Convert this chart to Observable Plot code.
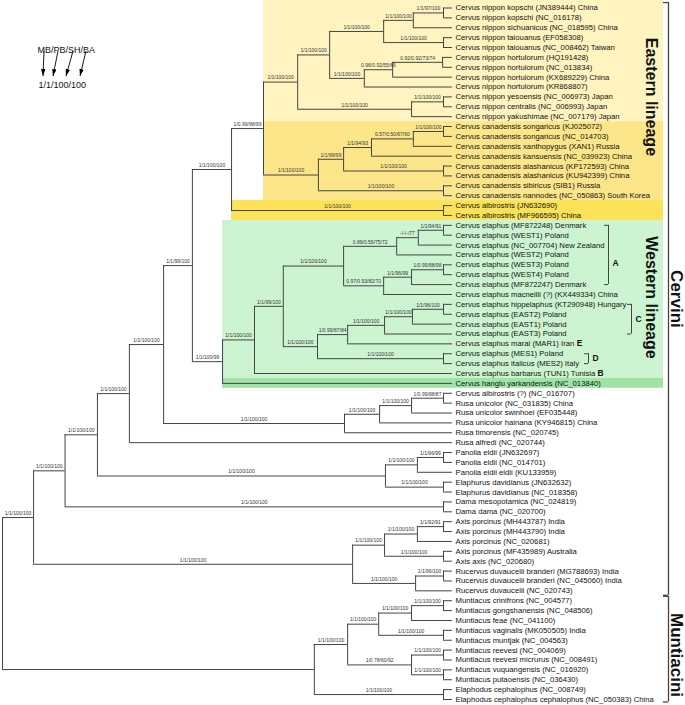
<!DOCTYPE html>
<html><head><meta charset="utf-8">
<script src="https://cdn.jsdelivr.net/npm/d3@7"></script>
<script src="https://cdn.jsdelivr.net/npm/@observablehq/plot@0.6"></script>
<style>body{margin:0;background:#fff}#chart svg{display:block}</style>
</head><body><div id="chart"></div>
<script>
// ---------- DATA ----------
const tipNames = [
"Cervus nippon kopschi (JN389444) China","Cervus nippon kopschi (NC_016178)","Cervus nippon sichuanicus (NC_018595) China",
"Cervus nippon taiouanus (EF058308)","Cervus nippon taiouanus (NC_008462) Taiwan","Cervus nippon hortulorum (HQ191428)",
"Cervus nippon hortulorum (NC_013834)","Cervus nippon hortulorum (KX689229) China","Cervus nippon hortulorum (KR868807)",
"Cervus nippon yesoensis (NC_006973) Japan","Cervus nippon centralis (NC_006993) Japan","Cervus nippon yakushimae (NC_007179) Japan",
"Cervus canadensis songaricus (KJ025072)","Cervus canadensis songaricus (NC_014703)","Cervus canadensis xanthopygus (XAN1) Russia",
"Cervus canadensis kansuensis (NC_039923) China","Cervus canadensis alashanicus (KP172593) China","Cervus canadensis alashanicus (KU942399) China",
"Cervus canadensis sibiricus (SIB1) Russia","Cervus canadensis nannodes (NC_050863) South Korea","Cervus albirostris (JN632690)",
"Cervus albirostris (MF966595) China","Cervus elaphus (MF872248) Denmark","Cervus elaphus (WEST1) Poland",
"Cervus elaphus (NC_007704) New Zealand","Cervus elaphus (WEST2) Poland","Cervus elaphus (WEST3) Poland",
"Cervus elaphus (WEST4) Poland","Cervus elaphus (MF872247) Denmark","Cervus elaphus macneilli (?) (KX449334) China",
"Cervus elaphus hippelaphus (KT290948) Hungary","Cervus elaphus (EAST2) Poland","Cervus elaphus (EAST1) Poland",
"Cervus elaphus (EAST3) Poland","Cervus elaphus maral (MAR1) Iran","Cervus elaphus (MES1) Poland",
"Cervus elaphus italicus (MES2) Italy","Cervus elaphus barbarus (TUN1) Tunisia","Cervus hanglu yarkandensis (NC_013840)",
"Cervus albirostris (?) (NC_016707)","Rusa unicolor (NC_031835) China","Rusa unicolor swinhoei (EF035448)",
"Rusa unicolor hainana (KY946815) China","Rusa timorensis (NC_020745)","Rusa alfredi (NC_020744)",
"Panolia eldii (JN632697)","Panolia eldii (NC_014701)","Panolia eldii eldii (KU133959)",
"Elaphurus davidianus (JN632632)","Elaphurus davidianus (NC_018358)","Dama mesopotamica (NC_024819)",
"Dama dama (NC_020700)","Axis porcinus (MH443787) India","Axis porcinus (MH443790) India",
"Axis porcinus (NC_020681)","Axis porcinus (MF435989) Australia","Axis axis (NC_020680)",
"Rucervus duvaucelii branderi (MG788693) India","Rucervus duvaucelii branderi (NC_045060) India","Rucervus duvaucelii (NC_020743)",
"Muntiacus crinifrons (NC_004577)","Muntiacus gongshanensis (NC_048506)","Muntiacus feae (NC_041100)",
"Muntiacus vaginalis (MK050505) India","Muntiacus muntjak (NC_004563)","Muntiacus reevesi (NC_004069)",
"Muntiacus reevesi micrurus (NC_008491)","Muntiacus vuquangensis (NC_016920)","Muntiacus putaoensis (NC_036430)",
"Elaphodus cephalophus (NC_008749)","Elaphodus cephalophus cephalophus (NC_050383) China"];

const tipParent = [
"kop2","kop2","kop3","tai","tai","hor3","hor3","hor2","hor","yes2","yes2","yes3",
"song","song","can2","can3","alash","alash","sib","sib","alb","alb",
"a1b","a1b","a1a","a1","a2b","a2b","a2a","a2","ce3","ce3","ce2","ce1","ce","dPair","dPair","e1","west",
"rusa3","rusa3","rusa2","rusa1","rusa","n129","pan2","pan2","pan1","ela","ela","dama","dama",
"ax2","ax2","ax1","axp","axp","ru1","ru1","ru",
"mu1b","mu1b","mu1a","vag","vag","ree","ree","vuq","vuq","elaphodus","elaphodus"];

// internal nodes: id, parent, relative depth (root = 0, tips = 1), support MB/PB/SH/BA
const nodeIds = ["root","n33","n65","n97","n129","n163","n192","n231","n263","nip","n329","nipX","kop3","kop2","tai",
"hor","hor2","hor3","yes3","yes2","can","can4","can3","can2","song","alash","sib","alb",
"west","e1","e2","aRoot","a1","a1a","a1b","a2","a2a","a2b","ced","ce","ce1","ce2","ce3","dPair",
"rusa","rusa1","rusa2","rusa3","pe","pan1","pan2","ela","dama","ar","ax","ax1","ax2","axp","ru","ru1",
"munt","mu","mu1","mu1a","mu1b","vag","mu2","ree","vuq","elaphodus"];
const nodeParent = [null,"root","n33","n65","n97","n129","n163","n192","n231","n263","nip","n329","nipX","kop3","nipX",
"n329","hor","hor2","nip","yes3","n263","can","can4","can3","can2","can4","can","n231",
"n192","west","e1","e2","aRoot","a1","a1a","aRoot","a2","a2a","e2","ced","ce","ce1","ce2","ced",
"n163","rusa","rusa1","rusa2","n97","pe","pan1","pe","n65","n33","ar","ax","ax1","ax","ar","ru",
"root","munt","mu","mu1","mu1a","mu1","mu","mu2","mu2","munt"];
const nodeDepth = [0,0.069,0.139,0.211,0.282,0.358,0.422,0.509,0.580,0.656,0.727,0.847,0.913,0.980,0.980,
0.804,0.867,0.978,0.909,0.980,0.702,0.758,0.820,0.913,0.980,0.980,0.980,0.980,
0.489,0.560,0.624,0.758,0.876,0.924,0.980,0.847,0.909,0.980,0.700,0.767,0.849,0.911,0.980,0.980,
0.760,0.838,0.909,0.980,0.851,0.922,0.980,0.980,0.980,0.778,0.849,0.922,0.980,0.980,0.918,0.980,
0.693,0.767,0.836,0.909,0.980,0.980,0.909,0.980,0.980,0.980];
const nodeSupport = ["","1/1/100/100","1/1/100/100","1/1/100/100","1/1/100/100","1/1/100/100","1/1/99/100","1/1/100/100","1/0.99/98/99",
"1/1/100/100","1/1/100/100","1/1/100/100","1/1/100/100","1/1/97/100","1/1/100/100",
"1/1/100/100","0.96/0.92/55/66","0.92/0.92/73/74","1/1/100/100","1/1/100/100",
"1/1/100/100","1/1/99/99","1/1/94/93","0.57/0.50/67/60","1/1/100/100","1/1/100/100","1/1/100/100","1/1/100/100",
"1/1/100/99","1/1/100/100","1/1/99/100","1/1/100/100","0.89/0.59/75/72","-/-/-/77","1/1/94/91","0.97/0.93/82/70","1/1/96/99","1/0.99/88/98",
"1/1/100/100","1/0.99/87/84","1/1/100/100","1/1/100/100","1/1/96/100","1/1/100/100",
"1/1/100/100","1/1/100/100","1/1/100/100","1/0.99/88/87","1/1/100/100","1/1/100/100","1/1/96/99","1/1/100/100","1/1/100/100",
"1/1/100/100","1/1/100/100","1/1/100/100","1/1/92/91","1/1/100/100","1/1/100/100","1/1/99/100",
"","1/1/100/100","1/1/100/100","1/1/100/100","1/1/100/100","1/1/100/100","1/0.78/60/92","1/1/100/100","1/1/100/100","1/1/100/100"];

// shaded lineage bands: tip range, left edge at clade node
const bandFrom  = [0, 12, 20, 22, 38];
const bandTo    = [11, 19, 21, 37, 38];
const bandNode  = ["n263","n263","n231","west","west"];
const bandColor = ["#fff4c0","#fde68a","#fce257","#cdf4d1","#9fe4a5"];

// mitochondrial groups
const groupLabel = ["A","C","D"];
const groupFrom = [22, 30, 35];
const groupTo   = [28, 33, 36];
const suffixTip = [34, 37];
const suffixLetter = ["E","B"];

const lineageLabel = ["Eastern lineage","Western lineage"];
const lineageAt = [9.0, 29.3];
const tribeLabel = ["Cervini","Muntiacini"];
const tribeFrom = [-0.55, 59.55];
const tribeTo = [59.45, 70.25];

// ---------- LAYOUT ----------
const W = 685, H = 705, X0 = 2, X1 = 452, Y0 = 7.5, Y1 = 699;
const xs = d3.scaleLinear([0, 1], [X0, X1]);
const ys = d3.scaleLinear([0, tipNames.length - 1], [Y0, Y1]);
const px = v => xs.invert(v);
const FONT = "Liberation Sans, Arial, Helvetica, sans-serif";

// ---------- TREE ----------
const nodes = new Map();
nodeIds.forEach((id, i) => nodes.set(id, {id, parent: nodeParent[i], depth: nodeDepth[i], support: nodeSupport[i], children: []}));
const tips = tipNames.map((name, i) => ({id: "t" + i, name, parent: tipParent[i], depth: 1, y: i, tip: true}));
for (const n of nodes.values()) if (n.parent) nodes.get(n.parent).children.push(n);
for (const t of tips) nodes.get(t.parent).children.push(t);
function setY(n) {
  if (n.tip) return n.y;
  const cy = n.children.map(setY);
  n.y0 = Math.min(...cy); n.y1 = Math.max(...cy); n.y = (n.y0 + n.y1) / 2;
  return n.y;
}
setY(nodes.get("root"));
const all = [...nodes.values(), ...tips];
const branches = all.filter(n => n.parent).map(n => {
  const p = nodes.get(n.parent);
  return {x1: p.depth, x2: n.depth, y: n.y, xm: (p.depth + n.depth) / 2, support: n.support || ""};
});
const verticals = [...nodes.values()].map(n => ({x: n.depth, y1: n.y0, y2: n.y1}));

const bands = bandFrom.map((f, i) => ({
  x1: nodes.get(bandNode[i]).depth, x2: px(663),
  y1: f === 0 ? ys.invert(0) : f - 0.5, y2: bandTo[i] + 0.5, color: bandColor[i]
}));
const groupX = [608, 631, 588];
const groups = groupLabel.map((g, i) => ({label: g, y1: groupFrom[i], y2: groupTo[i], x: px(groupX[i]), xt: px(groupX[i] - 4), xl: px(groupX[i] + 4), ym: (groupFrom[i] + groupTo[i]) / 2 + (g === "A" ? 0.8 : 0)}));
const groupTicks = groups.flatMap(g => [{x1: g.xt, x2: g.x, y: g.y1}, {x1: g.xt, x2: g.x, y: g.y2}]);
const tribes = tribeLabel.map((t, i) => ({label: t, y1: tribeFrom[i], y2: tribeTo[i], ym: (tribeFrom[i] + tribeTo[i]) / 2 + (i === 1 ? 0.6 : 0)}));
const tribeTicks = tribes.flatMap(t => [{y: t.y1}, {y: t.y2}]);

const stroke = "#444";
const plot = Plot.plot({
  width: W, height: H, margin: 0,
  style: {fontFamily: FONT, background: "#fff"},
  x: {domain: [0, 1], range: [X0, X1], axis: null},
  y: {domain: [0, tipNames.length - 1], range: [Y0, Y1], axis: null},
  color: {type: "identity"},
  marks: [
    Plot.rect(bands, {x1: "x1", x2: "x2", y1: "y1", y2: "y2", fill: "color"}),
    Plot.ruleX(verticals, {x: "x", y1: "y1", y2: "y2", stroke, strokeWidth: 1}),
    Plot.ruleY(branches, {y: "y", x1: "x1", x2: "x2", stroke, strokeWidth: 1}),
    Plot.text(branches.filter(d => d.support), {x: "xm", y: "y", text: "support", dy: -4.3, fontSize: 5, fill: "#333"}),
    Plot.text(tips, {x: "depth", y: "y", text: "name", textAnchor: "start", dx: 3, fontSize: 7.7, fill: "#111"}),
    // group brackets A, C, D
    Plot.ruleX(groups, {x: "x", y1: "y1", y2: "y2", stroke: "#444", strokeWidth: 1}),
    Plot.ruleY(groupTicks, {y: "y", x1: "x1", x2: "x2", stroke: "#444", strokeWidth: 1}),
    Plot.text(groups, {x: "xl", y: "ym", text: "label", textAnchor: "start", fontSize: 8.5, fontWeight: "bold", fill: "#111"}),
    // lineage labels
    Plot.text(lineageLabel.map((l, i) => ({l, y: lineageAt[i]})), {x: () => px(651), y: "y", text: "l", rotate: 90, fontSize: 16, fontWeight: "bold", fill: "#111"}),
    // tribe brackets
    Plot.ruleX(tribes, {x: () => px(668), y1: "y1", y2: "y2", stroke: "#444", strokeWidth: 1.3}),
    Plot.ruleY(tribeTicks, {y: "y", x1: () => px(663), x2: () => px(668), stroke: "#444", strokeWidth: 1.3}),
    Plot.text(tribes, {x: () => px(675.5), y: "ym", text: "label", rotate: 90, fontSize: 17, fontWeight: "bold", fill: "#111"}),
    // legend text
    Plot.text(["MB/PB/SH/BA"], {frameAnchor: "top-left", dx: 37, dy: 46, text: d => d, textAnchor: "start", fontSize: 9, fill: "#111"}),
    Plot.text(["1/1/100/100"], {frameAnchor: "top-left", dx: 38, dy: 81, text: d => d, textAnchor: "start", fontSize: 9, fill: "#111"})
  ]
});

// bold group letters appended to tip labels
const textEls = Array.from(plot.querySelectorAll("text"));
suffixTip.forEach((t, i) => {
  const el = textEls.find(e => e.textContent === tipNames[t]);
  if (!el) return;
  const ts = document.createElementNS("http://www.w3.org/2000/svg", "tspan");
  ts.setAttribute("font-weight", "bold");
  ts.setAttribute("font-size", 8.5);
  ts.textContent = "\u00a0" + suffixLetter[i];
  el.appendChild(ts);
});

// legend arrows
const svg = d3.select(plot);
svg.append("defs").append("marker").attr("id", "ah").attr("viewBox", "0 0 10 10")
  .attr("refX", 10).attr("refY", 5).attr("markerWidth", 7).attr("markerHeight", 4.5)
  .attr("preserveAspectRatio", "none").attr("orient", "auto").attr("markerUnits", "userSpaceOnUse")
  .append("path").attr("d", "M0,0L10,5L0,10z").attr("fill", "#000");
const arrows = [[44, 51, 43, 76], [58, 51, 53, 76], [73, 51, 66, 76], [86, 51, 80, 76]];
svg.append("g").selectAll("line").data(arrows).join("line")
  .attr("x1", d => d[0]).attr("y1", d => d[1]).attr("x2", d => d[2]).attr("y2", d => d[3])
  .attr("stroke", "#000").attr("stroke-width", 0.9).attr("marker-end", "url(#ah)");

document.getElementById("chart").appendChild(plot);
</script>
</body></html>
